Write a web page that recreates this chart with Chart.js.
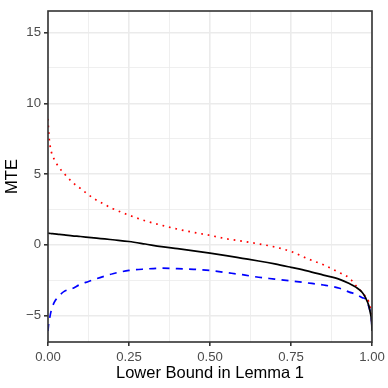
<!DOCTYPE html>
<html>
<head>
<meta charset="utf-8">
<script src="https://cdn.jsdelivr.net/npm/chart.js@4"></script>
<style>
  html, body { margin: 0; padding: 0; background: #ffffff; }
</style>
</head>
<body>
<canvas id="mteChart" width="388" height="388"></canvas>
<script>
// x values (lower bound in lemma 1)
const lowerBound = [0, 0.002, 0.005, 0.01, 0.02, 0.035, 0.05, 0.075, 0.1, 0.125, 0.15, 0.175, 0.2,
    0.25, 0.3, 0.35, 0.4, 0.45, 0.5, 0.55, 0.6, 0.65, 0.7, 0.75, 0.8, 0.85, 0.9, 0.93, 0.95,
    0.97, 0.98, 0.99, 0.995, 0.999, 1];

// MTE (black solid)
const mteValues = [0.82, 0.81, 0.80, 0.79, 0.77, 0.73, 0.70, 0.63, 0.58, 0.52, 0.46, 0.41, 0.35,
    0.23, 0.05, -0.14, -0.28, -0.43, -0.59, -0.77, -0.96, -1.15, -1.36, -1.60, -1.85, -2.15, -2.45, -2.75, -3.00,
    -3.38, -3.75, -4.30, -4.84, -5.50, -6.10];

// upper bound (red dotted)
const upperValues = [8.9, 8.0, 7.24, 6.6, 6.0, 5.45, 5.03, 4.42, 3.98, 3.53, 3.15, 2.84, 2.55,
    2.09, 1.69, 1.38, 1.10, 0.87, 0.66, 0.42, 0.25, 0.06, -0.16, -0.48, -0.98, -1.42, -1.98, -2.35, -2.88,
    -3.38, -3.66, -4.05, -4.50, -5.40, -6.10];

// lower bound (blue dashed)
const lowerValues = [-6.1, -5.6, -5.2, -4.65, -4.05, -3.6, -3.3, -3.1, -2.8, -2.6, -2.4, -2.22, -2.05,
    -1.82, -1.72, -1.66, -1.69, -1.74, -1.82, -1.97, -2.12, -2.30, -2.43, -2.56, -2.70, -2.85, -3.08, -3.35, -3.50,
    -3.75, -3.85, -4.37, -4.84, -5.50, -6.10];

// axis ticks (majors get labels, the rest are minor grid lines)
const xTicks = [0, 0.125, 0.25, 0.375, 0.5, 0.625, 0.75, 0.875, 1];
const yTicks = [-5, -2.5, 0, 2.5, 5, 7.5, 10, 12.5, 15];

const fontFamily = "'Liberation Sans', Arial, sans-serif";

function toPoints(ys) {
    return lowerBound.map((x, i) => ({ x: x, y: ys[i] }));
}

function isMajor(v, step) {
    return Math.abs(v / step - Math.round(v / step)) < 1e-9;
}

const panelBorder = {
    id: 'panelBorder',
    afterDatasetsDraw(chart) {
        const { ctx, chartArea: a } = chart;
        ctx.save();
        ctx.strokeStyle = '#333333';
        ctx.lineWidth = 1.6;
        ctx.strokeRect(a.left, a.top, a.right - a.left, a.bottom - a.top);
        ctx.restore();
    }
};

const ctx = document.getElementById('mteChart').getContext('2d');
new Chart(ctx, {
    type: 'line',
    data: {
        datasets: [{
            label: 'MTE',
            data: toPoints(mteValues),
            borderColor: '#000000',
            borderWidth: 1.7,
            pointRadius: 0,
            cubicInterpolationMode: 'monotone'
        },
        {
            label: 'Lower',
            data: toPoints(lowerValues),
            borderColor: '#0000FF',
            borderWidth: 1.7,
            borderDash: [7, 6.3],
            pointRadius: 0,
            cubicInterpolationMode: 'monotone'
        },
        {
            label: 'Upper',
            data: toPoints(upperValues),
            borderColor: '#FF0000',
            borderWidth: 1.7,
            borderDash: [1.7, 4.9],
            pointRadius: 0,
            cubicInterpolationMode: 'monotone'
        }]
    },
    options: {
        responsive: false,
        animation: false,
        devicePixelRatio: 1,
        layout: {
            padding: { top: 11, right: 16, bottom: 0, left: 0 }
        },
        plugins: {
            legend: { display: false },
            tooltip: { enabled: false }
        },
        scales: {
            x: {
                type: 'linear',
                min: 0,
                max: 1,
                afterBuildTicks: scale => { scale.ticks = xTicks.map(v => ({ value: v })); },
                afterFit: scale => { scale.height = 46; },
                border: { display: false },
                grid: {
                    color: '#EBEBEB',
                    lineWidth: c => (c.tick && isMajor(c.tick.value, 0.25)) ? 1.6 : 0.8,
                    tickLength: 4,
                    tickWidth: 1.6,
                    tickColor: c => (c.tick && isMajor(c.tick.value, 0.25)) ? '#333333' : 'rgba(0,0,0,0)'
                },
                ticks: {
                    autoSkip: false,
                    maxRotation: 0,
                    padding: 3,
                    color: '#4D4D4D',
                    font: { family: fontFamily, size: 13.2 },
                    callback: v => isMajor(v, 0.25) ? v.toFixed(2) : ''
                },
                title: {
                    display: true,
                    text: 'Lower Bound in Lemma 1',
                    color: '#000000',
                    font: { family: fontFamily, size: 16.5 },
                    padding: { top: 0, bottom: 5 }
                }
            },
            y: {
                type: 'linear',
                min: -6.88,
                max: 16.53,
                afterBuildTicks: scale => { scale.ticks = yTicks.map(v => ({ value: v })); },
                afterFit: scale => { scale.width = 48; },
                border: { display: false },
                grid: {
                    color: '#EBEBEB',
                    lineWidth: c => (c.tick && isMajor(c.tick.value, 5)) ? 1.6 : 0.8,
                    tickLength: 4,
                    tickWidth: 1.6,
                    tickColor: c => (c.tick && isMajor(c.tick.value, 5)) ? '#333333' : 'rgba(0,0,0,0)'
                },
                ticks: {
                    autoSkip: false,
                    padding: 3,
                    color: '#4D4D4D',
                    font: { family: fontFamily, size: 13.2 },
                    callback: v => isMajor(v, 5) ? String(v).replace('-', '\u2212') : ''
                },
                title: {
                    display: true,
                    text: 'MTE',
                    color: '#000000',
                    font: { family: fontFamily, size: 16.5 },
                    padding: { top: 3, bottom: 0 }
                }
            }
        }
    },
    plugins: [panelBorder]
});
</script>
</body>
</html>
